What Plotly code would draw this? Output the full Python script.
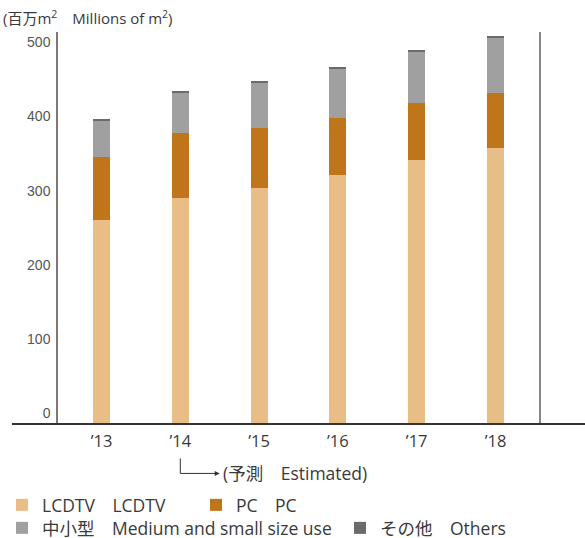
import plotly.graph_objects as go

# Demand by application, millions of m²
years = ["’13", "’14", "’15", "’16", "’17", "’18"]
lcdtv = [274, 303, 317, 335, 355, 371]
pc = [85, 88, 81, 77, 77, 74]
medium_small = [49, 55, 61, 66, 69, 74]
others = [1.5, 1.5, 1.5, 1.5, 2.7, 2.7]

y_ticks = [0, 100, 200, 300, 400, 500]

series = [
    ("LCDTV　LCDTV", lcdtv, "#E8BD86"),
    ("PC　PC", pc, "#BF761B"),
    ("中小型　Medium and small size use", medium_small, "#9FA09F"),
    ("その他　Others", others, "#6B6B6B"),
]
# legend entry placement (left px, centre row px)
legend_pos = [(2, 505), (196, 505), (2, 528), (340, 528)]

FONT = "'Open Sans', 'Noto Sans CJK JP', sans-serif"
TEXT = "#3a3a3a"
W, H = 585, 538

fig = go.Figure()
xs = list(range(len(years)))
legend_layout = {}
for i, (name, vals, color) in enumerate(series):
    key = "legend" if i == 0 else f"legend{i + 1}"
    fig.add_trace(go.Bar(
        x=xs, y=vals, name=name, marker=dict(color=color, line=dict(width=0)),
        width=0.216, legend=key,
    ))
    lx, ly = legend_pos[i]
    legend_layout[key] = dict(
        orientation="h", x=lx / W, y=(H - ly) / H, xref="container", yref="container",
        xanchor="left", yanchor="middle",
        font=dict(size=17.5, color=TEXT, family=FONT),
        itemclick=False, bgcolor="rgba(0,0,0,0)",
    )

H_PLOT = 391.5  # px height of plotting area
fig.update_layout(
    barmode="stack",
    width=W, height=H,
    margin=dict(l=12, r=0, t=32, b=114.5),
    paper_bgcolor="white", plot_bgcolor="white",
    font=dict(family=FONT, color=TEXT),
    xaxis=dict(
        range=[-1.136, 6.136], tickvals=xs, ticktext=years,
        showgrid=False, zeroline=False, showline=True, linecolor="#333333", linewidth=1.5,
        ticks="", tickfont=dict(size=16.5, color=TEXT, family=FONT), ticklabelstandoff=2,
    ),
    yaxis=dict(
        range=[0, 527.6], tickvals=y_ticks, anchor="free", position=(57 - 12) / 573,
        showgrid=False, zeroline=False, showline=True, linecolor="#7d7775", linewidth=1.5,
        ticks="", tickfont=dict(size=14, color="#555555", family="'Liberation Sans', Arial, sans-serif"),
        ticklabelshift=-10, ticklabelstandoff=3,
    ),
    showlegend=True,
    **legend_layout,
)

def py(pix):
    """Pixel row to paper y for the plotting area."""
    return (423.5 - pix) / H_PLOT

def px(pix):
    """Pixel column to paper x for the plotting area."""
    return (pix - 12) / 573

# right-hand vertical rule
fig.add_shape(type="line", xref="x", yref="paper", x0=5.565, x1=5.565, y0=0, y1=1,
              line=dict(color="#8c8481", width=2))

# forecast marker: L-shaped arrow from the '14 label
fig.add_shape(type="path", xref="x", yref="paper",
              path=f"M 1 {py(459)} L 1 {py(474)} L 1.47 {py(474)}",
              line=dict(color="#333333", width=1))
fig.add_annotation(x=1.50, y=py(474), xref="x", yref="paper", text="",
                   showarrow=True, ax=-4, ay=0, axref="pixel", ayref="pixel",
                   arrowhead=2, arrowsize=1, arrowwidth=1, arrowcolor="#333333")
fig.add_annotation(x=1.52, y=py(474), xref="x", yref="paper", text="(予測　Estimated)",
                   showarrow=False, xanchor="left", yanchor="middle",
                   font=dict(size=17.5, color=TEXT, family=FONT))

# unit label
fig.add_annotation(x=px(1), y=py(17), xref="paper", yref="paper",
                   text="(百万m<sup>2</sup>　Millions of m<sup>2</sup>)", showarrow=False,
                   xanchor="left", yanchor="middle",
                   font=dict(size=15, color=TEXT, family=FONT))

fig.write_html("out.html")
